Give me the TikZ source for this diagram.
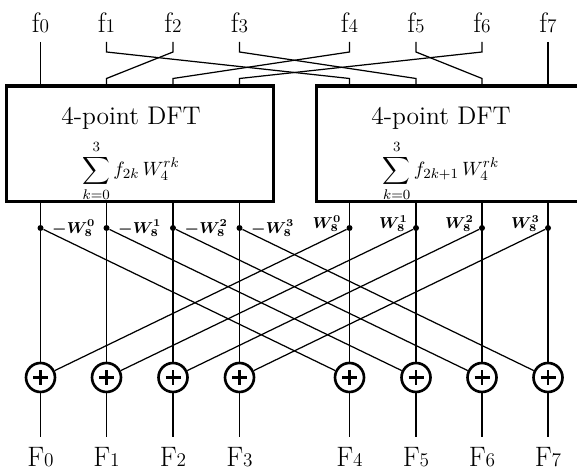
\documentclass[tikz,border=0pt]{standalone}
\usepackage{amsmath}
\usetikzlibrary{positioning}

\newcommand{\signame}[2]{#1{\fontsize{11}{13}\selectfont #2}}

\begin{document}
\begin{tikzpicture}[
    wire/.style={line width=0.7pt},
    dftbox/.style={rectangle, draw=black, line width=1.9pt, minimum width=5.34cm, minimum height=1.97cm, inner sep=0pt, font=\fontsize{14.5}{17}\selectfont},
    adder/.style={circle, draw=black, line width=1.5pt, minimum size=0.58cm, inner sep=0pt,
        path picture={\draw[line width=1.4pt] ([xshift=-0.15cm]path picture bounding box.center) -- ([xshift=0.15cm]path picture bounding box.center)
        ([yshift=-0.15cm]path picture bounding box.center) -- ([yshift=0.15cm]path picture bounding box.center);}},
    tap/.style={circle, fill=black, inner sep=0pt, minimum size=0.12cm},
    inlabel/.style={anchor=south, inner xsep=0pt, inner ysep=0.18cm, text depth=0pt, font=\fontsize{16}{18}\selectfont},
    outlabel/.style={anchor=north, inner xsep=0pt, inner ysep=0.2cm, font=\fontsize{16}{18}\selectfont},
    twiddle/.style={inner sep=0pt, font=\fontsize{9}{11}\selectfont\boldmath}
]
\useasboundingbox (0,0) rectangle (11.54,9.5);

\coordinate (tapline) at (0,4.94);
\coordinate (addline) at (0,1.95);

% inputs and outputs
\foreach \i/\x in {0/0.81,1/2.13,2/3.46,3/4.79,4/6.99,5/8.32,6/9.64,7/10.96} {
  \node[inlabel] (f\i) at (\x,8.66) {\signame{f}{\i}};
  \node[outlabel] (F\i) at (\x,0.76) {\signame{F}{\i}};
}

\node[dftbox] (Lbox) at (2.8,6.625) {\begin{tabular}{@{}c@{}}\rule{0pt}{22pt}4-point DFT\\[4pt]
\fontsize{10.95}{13}\selectfont $\displaystyle\sum_{k=0}^{3} f_{2k}\,W_4^{rk}$\end{tabular}\hspace*{0.36cm}};
\node[dftbox] (Rbox) at (9.0,6.625) {\begin{tabular}{@{}c@{}}\rule{0pt}{22pt}4-point DFT\\[4pt]
\fontsize{10.95}{13}\selectfont $\displaystyle\sum_{k=0}^{3} f_{2k+1}\,W_4^{rk}$\end{tabular}\hspace*{0.36cm}};

\foreach \k in {0,...,3} {
  \pgfmathtruncatemacro{\m}{\k+4}
  \coordinate (l\k) at (Lbox.north -| f\k);
  \coordinate (r\k) at (Rbox.north -| f\m);
}

% even/odd split
\foreach \i/\t in {0/l0,1/r0,2/l1,3/r1,4/l2,5/r2,6/l3,7/r3}
  \draw[wire] (f\i.south) -- ++(0,-0.2) -- ([yshift=0.12cm]\t) -- (\t);

\foreach \i in {0,...,7} {
  \node[tap] (d\i) at (f\i |- tapline) {};
  \node[adder] (a\i) at (f\i |- addline) {};
}

\foreach \i/\b in {0/Lbox,1/Lbox,2/Lbox,3/Lbox,4/Rbox,5/Rbox,6/Rbox,7/Rbox} {
  \draw[wire] (\b.south -| a\i) -- (a\i);
  \draw[wire] (a\i) -- (F\i);
}

% butterflies
\foreach \i in {0,...,3} {
  \pgfmathtruncatemacro{\j}{\i+4}
  \draw[wire] (d\i) -- (a\j);
  \draw[wire] (d\j) -- (a\i);
  \node[twiddle, right=0.16cm of d\i] (wl\i) {$-W_8^{\i}$};
  \node[twiddle, left=0.09cm of d\j, yshift=0.09cm] (wr\i) {$W_8^{\i}$};
}
\end{tikzpicture}
\end{document}
